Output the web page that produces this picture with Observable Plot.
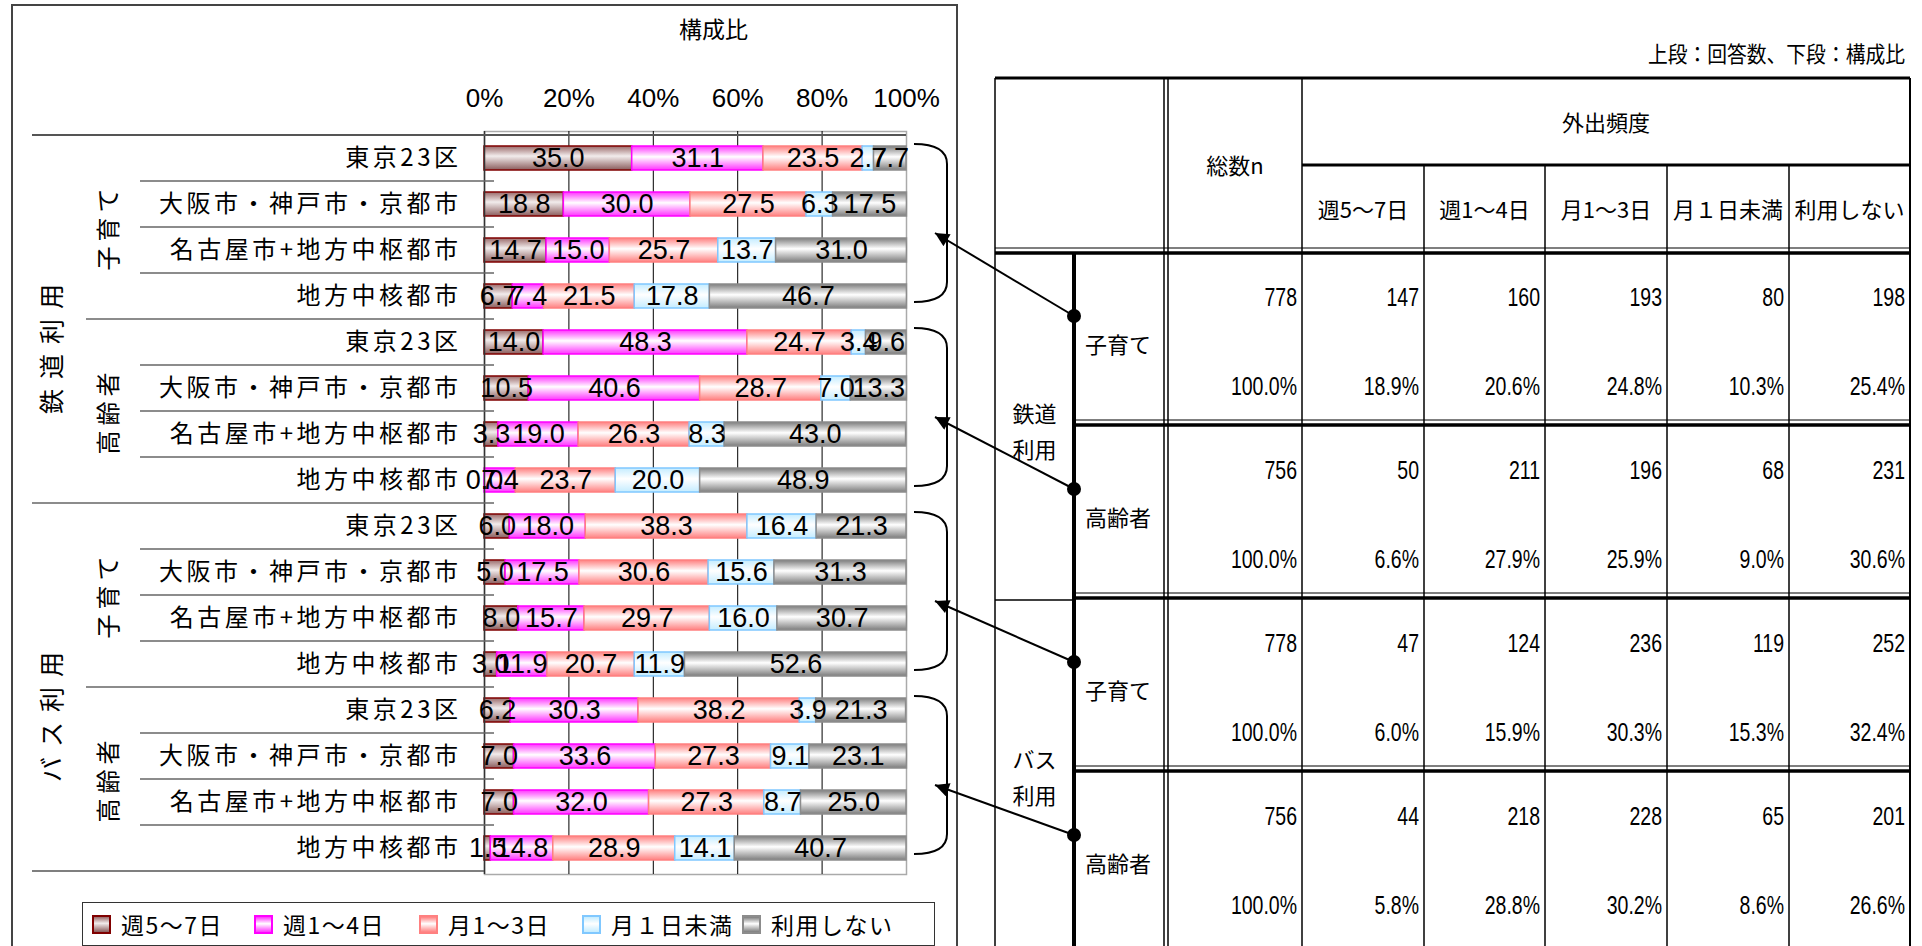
<!DOCTYPE html>
<html lang="ja">
<head>
<meta charset="utf-8">
<script src="https://cdn.jsdelivr.net/npm/d3@7"></script>
<script src="https://cdn.jsdelivr.net/npm/@observablehq/plot@0.6"></script>
<style>
html,body{margin:0;padding:0;background:#fff;}
body{width:1922px;height:946px;overflow:hidden;position:relative;font-family:"Noto Sans CJK JP","Noto Sans",sans-serif;color:#000;}
#panel{position:absolute;left:11px;top:4px;width:947px;height:990px;border:2px solid #444;box-sizing:border-box;}
#chart{position:absolute;left:0;top:0;width:960px;}
#legend{position:absolute;left:82px;top:902px;width:853px;height:44px;border:1.5px solid #333;box-sizing:border-box;display:flex;align-items:center;padding-left:9px;font-size:23px;letter-spacing:1.5px;background:#fff;}
#legend .item{display:flex;align-items:center;flex:none;white-space:nowrap;}
#legend .sw{width:15px;height:15px;border:2px solid;margin-right:10px;flex:none;}
#ann{position:absolute;left:0;top:0;}
</style>
</head>
<body>
<div id="panel"></div>
<div id="chart"></div>
<div id="legend"></div>
<svg id="ann" width="1922" height="946"></svg>
<script>
// ---------- DATA ----------
const series = ["週5～7日", "週1～4日", "月1～3日", "月１日未満", "利用しない"];
const modes = ["鉄道利用", "バス利用"];
const groups = ["子育て", "高齢者"];
const cities = ["東京23区", "大阪市・神戸市・京都市", "名古屋市+地方中枢都市", "地方中核都市"];
// 構成比 (%) for each row: 鉄道(子育て×4, 高齢者×4), バス(子育て×4, 高齢者×4)
const shares = [
  [35.0, 31.1, 23.5, 2.7, 7.7],
  [18.8, 30.0, 27.5, 6.3, 17.5],
  [14.7, 15.0, 25.7, 13.7, 31.0],
  [6.7, 7.4, 21.5, 17.8, 46.7],
  [14.0, 48.3, 24.7, 3.4, 9.6],
  [10.5, 40.6, 28.7, 7.0, 13.3],
  [3.3, 19.0, 26.3, 8.3, 43.0],
  [0.0, 7.4, 23.7, 20.0, 48.9],
  [6.0, 18.0, 38.3, 16.4, 21.3],
  [5.0, 17.5, 30.6, 15.6, 31.3],
  [8.0, 15.7, 29.7, 16.0, 30.7],
  [3.0, 11.9, 20.7, 11.9, 52.6],
  [6.2, 30.3, 38.2, 3.9, 21.3],
  [7.0, 33.6, 27.3, 9.1, 23.1],
  [7.0, 32.0, 27.3, 8.7, 25.0],
  [1.5, 14.8, 28.9, 14.1, 40.7]
];
const xTicks = [0, 20, 40, 60, 80, 100];
const chartTitle = "構成比";
// table (right)
const tableNote = "上段：回答数、下段：構成比";
const tableHeadTotal = "総数n";
const tableHeadGroup = "外出頻度";
const tableTotals = [778, 756, 778, 756];
const tableCounts = [
  [147, 160, 193, 80, 198],
  [50, 211, 196, 68, 231],
  [47, 124, 236, 119, 252],
  [44, 218, 228, 65, 201]
];
const tablePercents = [
  [18.9, 20.6, 24.8, 10.3, 25.4],
  [6.6, 27.9, 25.9, 9.0, 30.6],
  [6.0, 15.9, 30.3, 15.3, 32.4],
  [5.8, 28.8, 30.2, 8.6, 26.6]
];
const tableTotalPercent = [100.0, 100.0, 100.0, 100.0];

// ---------- STYLES ----------
const strokeColors = ["#800000", "#ff00ff", "#ff8080", "#80c8ff", "#8c8c8c"];
const gradStops = [
  [[0, "#9a6a6a"], [0.42, "#f2ecec"], [1, "#8a5c5c"]],
  [[0, "#ff33ff"], [0.45, "#ffffff"], [1, "#ff33ff"]],
  [[0, "#ff8080"], [0.45, "#ffffff"], [1, "#ff8080"]],
  [[0, "#c4ecff"], [0.45, "#ffffff"], [1, "#c4ecff"]],
  [[0, "#7d7d7d"], [0.45, "#ffffff"], [1, "#7d7d7d"]]
];
const legendItemWidths = [162, 165, 163, 160, 150];
const JP = '"Noto Sans CJK JP","Noto Sans",sans-serif';
const NUM = '"Liberation Sans",Arial,sans-serif';

// gradient defs
const defsSvg = d3.select("body").append("svg").attr("width", 0).attr("height", 0)
  .style("position", "absolute").style("left", 0).style("top", 0);
const defs = defsSvg.append("defs");
gradStops.forEach((stops, k) => {
  const lg = defs.append("linearGradient").attr("id", "g" + k)
    .attr("x1", 0).attr("y1", 0).attr("x2", 0).attr("y2", 1);
  stops.forEach(([o, c]) => lg.append("stop").attr("offset", o).attr("stop-color", c));
});

// ---------- BUILD ROWS ----------
const rowKeys = [], rowInfo = [];
modes.forEach(m => groups.forEach(g => cities.forEach(c => {
  rowKeys.push(`${m}/${g}/${c}`);
  rowInfo.push({mode: m, group: g, city: c});
})));
const data = [];
shares.forEach((vals, i) => vals.forEach((v, k) =>
  data.push({key: rowKeys[i], city: rowInfo[i].city, k, series: series[k], value: v})));

// ---------- CHART ----------
const chart = Plot.plot({
  width: 960, height: 880,
  marginLeft: 484, marginRight: 54, marginTop: 131, marginBottom: 6,
  style: {background: "transparent", color: "#000", fontFamily: NUM},
  x: {domain: [0, 100], axis: null},
  y: {domain: rowKeys, axis: null, paddingInner: 0.48, paddingOuter: 0.24},
  color: {type: "identity"},
  marks: [
    Plot.frame({stroke: "#aaa", strokeWidth: 1.5}),
    Plot.ruleX(xTicks.slice(1, -1), {stroke: "#000", strokeWidth: 1}),
    Plot.barX(data, Plot.stackX({
      y: "key", x: "value",
      fill: d => `url(#g${d.k})`, stroke: d => strokeColors[d.k], strokeWidth: 1.5
    })),
    Plot.ruleX([0], {stroke: "#333", strokeWidth: 1.5}),
    Plot.text(data, Plot.stackX({
      y: "key", x: "value", text: d => d.value.toFixed(1),
      fontSize: 27, fill: "#000", fontFamily: NUM
    })),
    Plot.text(rowKeys, {
      y: d => d, text: (d, i) => rowInfo[i].city,
      frameAnchor: "left", textAnchor: "end", dx: -23,
      fontSize: 24, fontFamily: JP, fill: "#000"
    }),
    Plot.axisX({ticks: xTicks, anchor: "top", tickSize: 0, tickPadding: 25,
      tickFormat: d => d + "%", fontSize: 26, label: null, fill: "#000"}),
    Plot.text([chartTitle], {frameAnchor: "top", dx: 18, dy: -110, fontSize: 23, fontFamily: JP, fill: "#000"})
  ]
});
document.getElementById("chart").appendChild(chart);

const xs = chart.scale("x"), ys = chart.scale("y");
const step = ys.step, bw = ys.bandwidth;
const slotTop = i => i < rowKeys.length
  ? ys.apply(rowKeys[i]) - (step - bw) / 2
  : ys.apply(rowKeys[rowKeys.length - 1]) + bw + (step - bw) / 2;
const x0 = xs.apply(0), x100 = xs.apply(100);

const svg = d3.select(chart);
svg.selectAll("text").filter(function() { return cities.includes(this.textContent); })
  .style("letter-spacing", "3.5px");
const hg = svg.append("g");
// hierarchy separators
for (let i = 1; i < rowKeys.length; i++) {
  const xa = i % 8 === 0 ? 32 : i % 4 === 0 ? 86 : 140;
  hg.append("line").attr("x1", xa).attr("x2", x0 + 10)
    .attr("y1", slotTop(i)).attr("y2", slotTop(i)).attr("stroke", "#666").attr("stroke-width", 1.5);
}
hg.append("line").attr("x1", 32).attr("x2", x100).attr("y1", slotTop(0)).attr("y2", slotTop(0))
  .attr("stroke", "#555").attr("stroke-width", 2);
hg.append("line").attr("x1", 32).attr("x2", x0).attr("y1", slotTop(16)).attr("y2", slotTop(16))
  .attr("stroke", "#555").attr("stroke-width", 1.5);
// mode labels (vertical)
modes.forEach((m, mi) => {
  const cy = (slotTop(mi * 8) + slotTop(mi * 8 + 8)) / 2 + 25;
  hg.append("text").attr("transform", `translate(50,${cy}) rotate(-90)`)
    .attr("text-anchor", "middle").attr("dominant-baseline", "central")
    .style("font-family", JP).style("font-size", "25px").style("letter-spacing", "10px").text(m);
});
// group labels (vertical)
modes.forEach((m, mi) => groups.forEach((g, gi) => {
  const s = mi * 8 + gi * 4;
  const cy = (slotTop(s) + slotTop(s + 4)) / 2;
  hg.append("text").attr("transform", `translate(106,${cy}) rotate(-90)`)
    .attr("text-anchor", "middle").attr("dominant-baseline", "central")
    .style("font-family", JP).style("font-size", "24px").style("letter-spacing", "5px").text(g);
}));

// ---------- LEGEND ----------
const leg = d3.select("#legend");
series.forEach((s, k) => {
  const it = leg.append("div").attr("class", "item").style("width", legendItemWidths[k] + "px");
  const st = gradStops[k];
  it.append("div").attr("class", "sw").style("border-color", strokeColors[k])
    .style("background", `linear-gradient(to bottom, ${st[0][1]}, ${st[1][1]} ${st[1][0] * 100}%, ${st[2][1]})`);
  it.append("span").text(s);
});

// ---------- TABLE + ANNOTATIONS ----------
const ann = d3.select("#ann");
const TX = [995, 1074, 1166, 1302, 1424, 1545, 1667, 1789, 1910];
const T_TOP = 78, T_H1 = 165, T_H2 = 252, BLOCK = 173, T_BOTTOM = 946;
const blockTop = b => T_H2 + b * BLOCK;
const L = (x1, y1, x2, y2, w) => ann.append("line").attr("x1", x1).attr("y1", y1)
  .attr("x2", x2).attr("y2", y2).attr("stroke", "#000").attr("stroke-width", w);
const T = (x, y, txt, anchor, font, size, sx = 1) => ann.append("text")
  .attr("transform", `translate(${x},${y}) scale(${sx},1)`)
  .attr("text-anchor", anchor).attr("dominant-baseline", "central")
  .style("font-family", font).style("font-size", size + "px").text(txt);

L(995, T_TOP, 1910, T_TOP, 3);
L(995, T_TOP, 995, T_BOTTOM, 1.5);
L(1910, T_TOP, 1910, T_BOTTOM, 2);
L(1164, T_TOP, 1164, T_BOTTOM, 1.5);
L(1168, T_TOP, 1168, T_BOTTOM, 1.5);
L(1302, T_TOP, 1302, T_BOTTOM, 1.5);
[1424, 1545, 1667, 1789].forEach(x => L(x, T_H1, x, T_BOTTOM, 1.5));
L(1302, T_H1, 1910, T_H1, 3);
L(995, T_H2 - 4, 1910, T_H2 - 4, 1.2);
L(995, T_H2 + 1, 1910, T_H2 + 1, 3.5);
L(1074, T_H2, 1074, T_BOTTOM, 4);
for (let b = 1; b < 4; b++) {
  const y = blockTop(b);
  L(1074, y - 5, 1910, y - 5, 1.2);
  L(1074, y, 1910, y, 3.5);
  if (b === 2) L(995, y + 2, 1074, y + 2, 1.5);
}
T(1905, 53, tableNote, "end", JP, 22, 0.9);
T((TX[3] + TX[8]) / 2, 121, tableHeadGroup, "middle", JP, 22);
T((1168 + TX[3]) / 2, 164, tableHeadTotal, "middle", JP, 22);
series.forEach((s, k) => T((TX[3 + k] + TX[4 + k]) / 2, 208, s, "middle", JP, 22));
modes.forEach((m, mi) => {
  const cy = (blockTop(mi * 2) + blockTop(mi * 2 + 2)) / 2;
  T((TX[0] + TX[1]) / 2, cy - 13, m.slice(0, 2), "middle", JP, 22);
  T((TX[0] + TX[1]) / 2, cy + 23, m.slice(2), "middle", JP, 22);
});
const NS = 0.78;
for (let b = 0; b < 4; b++) {
  const top = blockTop(b);
  T(1085, top + 91, groups[b % 2], "start", JP, 22);
  T(TX[3] - 5, top + 46, String(tableTotals[b]), "end", NUM, 25, NS);
  T(TX[3] - 5, top + 135, tableTotalPercent[b].toFixed(1) + "%", "end", NUM, 25, NS);
  for (let k = 0; k < 5; k++) {
    T(TX[4 + k] - 5, top + 46, String(tableCounts[b][k]), "end", NUM, 25, NS);
    T(TX[4 + k] - 5, top + 135, tablePercents[b][k].toFixed(1) + "%", "end", NUM, 25, NS);
  }
}

// brackets + arrows
const mk = ann.append("defs").append("marker").attr("id", "ah")
  .attr("viewBox", "0 0 10 10").attr("refX", 10).attr("refY", 5)
  .attr("markerWidth", 16).attr("markerHeight", 14).attr("markerUnits", "userSpaceOnUse")
  .attr("orient", "auto");
mk.append("path").attr("d", "M0,0 L10,5 L0,10 Z").attr("fill", "#000");
for (let g = 0; g < 4; g++) {
  const top = slotTop(g * 4) + 9, bot = slotTop(g * 4 + 4) - 17;
  const xa = x100 + 8, xb = xa + 33;
  ann.append("path")
    .attr("d", `M${xa},${top} Q${xb},${top} ${xb},${top + 20} L${xb},${bot - 20} Q${xb},${bot} ${xa},${bot}`)
    .attr("fill", "none").attr("stroke", "#000").attr("stroke-width", 2);
  const dy = blockTop(g) + 64;
  ann.append("line").attr("x1", TX[1]).attr("y1", dy)
    .attr("x2", xb - 12).attr("y2", (top + bot) / 2 + 10)
    .attr("stroke", "#000").attr("stroke-width", 2).attr("marker-end", "url(#ah)");
  ann.append("circle").attr("cx", TX[1]).attr("cy", dy).attr("r", 7).attr("fill", "#000");
}
</script>
</body>
</html>
